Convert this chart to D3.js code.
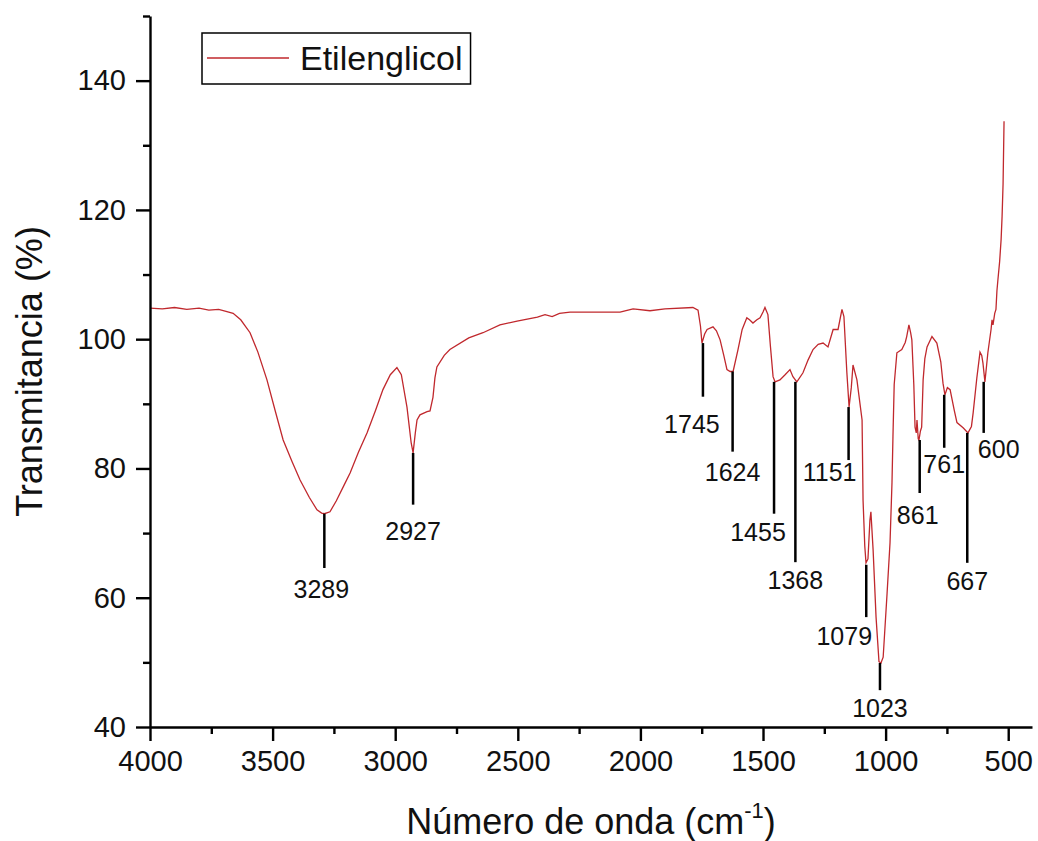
<!DOCTYPE html>
<html>
<head>
<meta charset="utf-8">
<script src="https://cdn.jsdelivr.net/npm/d3@7"></script>
<style>
    body { margin: 0; background: #fff; }
    svg text { font-family: "Liberation Sans", Arial, sans-serif; fill: #111; }
</style>
</head>
<body>
<div class="chart"></div>
<script>
// spectrum (wavenumber cm-1, transmittance %)
var wavenumbers = [4000, 3950, 3900, 3850, 3800, 3760, 3720, 3690, 3661, 3630, 3592, 3560, 3523, 3490, 3457, 3420, 3388, 3350, 3319, 3300,
    3289, 3266, 3240, 3210, 3184, 3150, 3115, 3080, 3050, 3020, 2993, 2975, 2952, 2935, 2927, 2918, 2911, 2899, 2870, 2858,
    2846, 2838, 2830, 2800, 2777, 2700, 2642, 2573, 2503, 2420, 2389, 2360, 2330, 2287, 2200, 2083, 2030, 1961, 1900, 1786,
    1765, 1755, 1749, 1738, 1728, 1704, 1690, 1675, 1660, 1647, 1634, 1622, 1602, 1585, 1566, 1555, 1541, 1525, 1512, 1500,
    1492, 1480, 1470, 1459, 1451, 1431, 1410, 1390, 1378, 1362, 1337, 1316, 1296, 1275, 1255, 1235, 1214, 1194, 1178, 1170,
    1158, 1149, 1140, 1133, 1117, 1096, 1092, 1085, 1080, 1072, 1064, 1060, 1051, 1039, 1027, 1019, 1010, 994, 982, 974,
    970, 965, 954, 934, 920, 914, 905, 898, 893, 885, 880, 875, 872, 867, 864, 858, 853, 847, 840, 831,
    811, 791, 775, 766, 758, 748, 737, 720, 709, 684, 664, 650, 643, 628, 615, 608, 603, 595, 588, 583,
    570, 566, 562, 555, 550, 546, 542, 535, 529, 525, 521, 517];
var transmittance = [104.8, 104.7, 104.9, 104.6, 104.8, 104.5, 104.6, 104.3, 104.0, 103.0, 101.0, 98.0, 93.7, 89.0, 84.4, 81.0, 78.2, 75.5, 73.6, 73.1,
    73.0, 73.3, 75.0, 77.3, 79.3, 82.5, 85.5, 89.0, 92.2, 94.5, 95.6, 94.5, 89.5, 84.0, 82.4, 85.5, 87.5, 88.3, 88.8, 88.9,
    91.0, 94.0, 95.7, 97.5, 98.4, 100.2, 101.0, 102.2, 102.8, 103.4, 103.8, 103.5, 104.0, 104.2, 104.2, 104.2, 104.7, 104.4, 104.7, 104.9,
    104.5, 102.0, 99.4, 100.8, 101.5, 101.9, 101.3, 99.9, 97.5, 95.3, 95.0, 95.0, 98.4, 101.5, 103.3, 103.0, 102.5, 103.0, 103.3, 104.2,
    104.9, 103.8, 99.0, 94.2, 93.4, 93.7, 94.5, 95.3, 94.2, 93.4, 94.8, 96.8, 98.4, 99.2, 99.4, 98.8, 101.5, 101.5, 104.6, 103.5,
    94.8, 89.5, 92.5, 96.0, 93.7, 87.5, 75.1, 68.0, 65.4, 66.0, 72.0, 73.3, 67.4, 57.0, 50.1, 49.9, 50.8, 60.7, 68.5, 77.8,
    85.0, 93.0, 97.9, 98.4, 99.5, 100.4, 102.2, 101.0, 99.9, 93.0, 86.4, 85.5, 87.5, 84.6, 84.4, 85.8, 86.4, 93.7, 97.0, 98.8,
    100.4, 99.4, 96.5, 93.2, 91.4, 92.5, 92.2, 89.0, 87.1, 86.3, 85.5, 86.5, 88.6, 94.0, 98.0, 97.5, 96.3, 93.4, 96.0, 97.9,
    101.5, 103.0, 102.2, 104.0, 104.6, 107.5, 109.2, 112.0, 115.4, 119.0, 124.0, 133.7];

// peak marks: label, transmittance at the tip of the line and at its end
var peakLabels = [3289, 2927, 1745, 1624, 1455, 1368, 1151, 1079, 1023, 861, 761, 667, 600];
var peakTop = [73.0, 82.4, 99.4, 95.0, 93.4, 93.4, 89.5, 65.1, 49.9, 84.4, 91.4, 85.5, 93.4];
var peakBottom = [64.6, 74.4, 91.1, 82.6, 73.0, 65.5, 81.3, 57.0, 45.7, 76.2, 83.2, 65.4, 85.5];

var xTicks = [4000, 3500, 3000, 2500, 2000, 1500, 1000, 500];
var xMinorTicks = [3750, 3250, 2750, 2250, 1750, 1250, 750];
var yTicks = [40, 60, 80, 100, 120, 140];
var yMinorTicks = [50, 70, 90, 110, 130, 150];

var seriesName = "Etilenglicol";

var Spectrum = {
    width: 1038,
    height: 841,
    left: 150,
    right: 1032,
    top: 16,
    bottom: 727,
    lineColor: "#c0282d",
    labelShift: {
        3289: [-3, 3], 2927: [0, 8], 1745: [-11, 9], 1624: [0, 2], 1455: [-16, 0],
        1151: [-19, -6], 1079: [-22, 1], 861: [-2, 4], 761: [0, -2], 600: [15, -2]
    },
    svg: null,
    x: null,
    y: null,
    init: function () {
        this.svg = d3.select(".chart").append("svg")
            .attr("width", this.width)
            .attr("height", this.height);

        this.x = d3.scaleLinear().domain([4000, 403]).range([this.left, this.right]);
        this.y = d3.scaleLinear().domain([40, 150]).range([this.bottom, this.top]);

        this.drawCurve();
        this.drawPeaks();
        this.drawAxes();
        this.drawLegend();
    },
    drawCurve: function () {
        var x = this.x, y = this.y;
        var line = d3.line()
            .x(function (d, i) { return x(d); })
            .y(function (d, i) { return y(transmittance[i]); });

        this.svg.append("path")
            .datum(wavenumbers)
            .attr("d", line)
            .attr("fill", "none")
            .attr("stroke", this.lineColor)
            .attr("stroke-width", 1.3);
    },
    drawPeaks: function () {
        var x = this.x, y = this.y, shift = this.labelShift;
        var g = this.svg.append("g");

        g.selectAll("line")
            .data(peakLabels)
            .enter()
            .append("line")
            .attr("x1", function (d) { return x(d); })
            .attr("x2", function (d) { return x(d); })
            .attr("y1", function (d, i) { return y(peakTop[i]); })
            .attr("y2", function (d, i) { return y(peakBottom[i]); })
            .attr("stroke", "#000")
            .attr("stroke-width", 2.5);

        g.selectAll("text")
            .data(peakLabels)
            .enter()
            .append("text")
            .attr("x", function (d) { return x(d) + (shift[d] ? shift[d][0] : 0); })
            .attr("y", function (d, i) { return y(peakBottom[i]) + 27 + (shift[d] ? shift[d][1] : 0); })
            .attr("text-anchor", "middle")
            .attr("font-size", 25)
            .text(function (d) { return d; });
    },
    drawAxes: function () {
        var fmt = d3.format("d");
        var xAxis = this.svg.append("g")
            .attr("transform", "translate(0," + this.bottom + ")")
            .call(d3.axisBottom(this.x).tickValues(xTicks).tickFormat(fmt).tickSize(14).tickSizeOuter(0).tickPadding(9));
        xAxis.append("g")
            .call(d3.axisBottom(this.x).tickValues(xMinorTicks).tickSize(7).tickSizeOuter(0).tickFormat(""))
            .select(".domain").remove();

        var yAxis = this.svg.append("g")
            .attr("transform", "translate(" + this.left + ",0)")
            .call(d3.axisLeft(this.y).tickValues(yTicks).tickFormat(fmt).tickSize(14).tickSizeOuter(0).tickPadding(10));
        yAxis.append("g")
            .call(d3.axisLeft(this.y).tickValues(yMinorTicks).tickSize(7).tickSizeOuter(0).tickFormat(""))
            .select(".domain").remove();

        this.svg.selectAll(".domain, .tick line")
            .attr("stroke", "#000")
            .attr("stroke-width", 2.4);
        this.svg.selectAll(".tick text")
            .attr("font-size", 29)
            .attr("font-family", "Liberation Sans, Arial, sans-serif")
            .attr("fill", "#111");

        var title = this.svg.append("text")
            .attr("x", (this.left + this.right) / 2)
            .attr("y", 834)
            .attr("text-anchor", "middle")
            .attr("font-size", 36);
        title.append("tspan").text("Número de onda (cm");
        title.append("tspan").attr("font-size", 22).attr("dy", -16).text("-1");
        title.append("tspan").attr("dy", 16).text(")");

        this.svg.append("text")
            .attr("transform", "translate(42," + (this.top + this.bottom) / 2 + ") rotate(-90)")
            .attr("text-anchor", "middle")
            .attr("font-size", 36)
            .text("Transmitancia (%)");
    },
    drawLegend: function () {
        var g = this.svg.append("g").attr("transform", "translate(202,33)");
        var label = g.append("text")
            .attr("x", 98)
            .attr("y", 37)
            .attr("font-size", 34)
            .text(seriesName);
        var w = label.node().getComputedTextLength();

        g.insert("rect", "text")
            .attr("width", 98 + w + 8)
            .attr("height", 51)
            .attr("fill", "#fff")
            .attr("stroke", "#000")
            .attr("stroke-width", 1.5);
        g.append("line")
            .attr("x1", 5).attr("x2", 87)
            .attr("y1", 25).attr("y2", 25)
            .attr("stroke", this.lineColor)
            .attr("stroke-width", 1.3);
    }
};

Spectrum.init();
</script>
</body>
</html>
